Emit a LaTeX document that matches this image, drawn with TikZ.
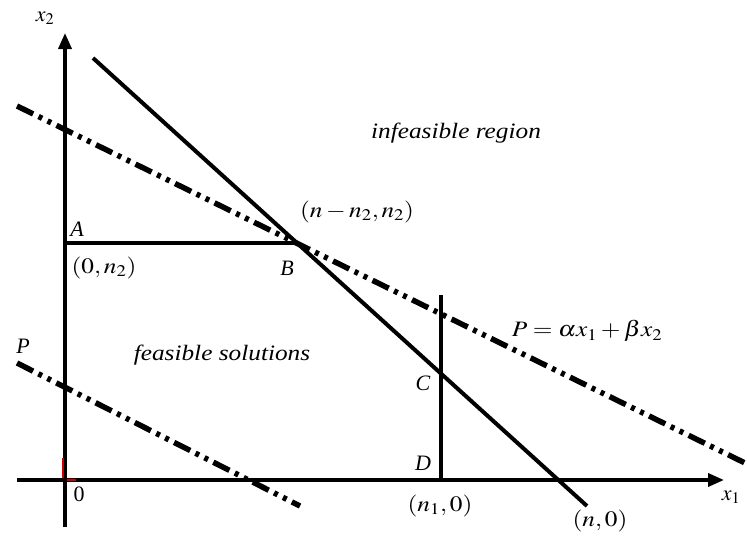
\documentclass[tikz,border=0pt]{standalone}
\usepackage{mathptmx}
\usepackage{fontspec}
\setmainfont{Liberation Serif}
\usetikzlibrary{arrows.meta}
\newcommand{\stretchtxt}[1]{\scalebox{1.15}[1]{#1}}
\begin{document}
\begin{tikzpicture}[x=1pt,y=-1pt,
  solidline/.style={line width=4pt},
  axisline/.style={line width=3.6pt,-{Triangle[length=16pt,width=13pt]}},
  ddline/.style={line width=5.5pt,dash pattern=on 18pt off 6pt on 4pt off 6pt on 4pt off 6pt},
  lbl/.style={font=\fontsize{22}{26}\selectfont\itshape,inner sep=0pt},
  mlbl/.style={font=\fontsize{22}{26}\selectfont,inner sep=0pt}]
\useasboundingbox (0,0) rectangle (747,539);
% coordinates
\coordinate (ybot) at (65,527);
\coordinate (ytop) at (65,33);
\coordinate (xleft) at (17,480);
\coordinate (xright) at (724,480);
\coordinate (O) at (65,480);
\coordinate (A) at (65,243);
\coordinate (B) at (298,243);
\coordinate (L1s) at (93,58);
\coordinate (L1e) at (587,506);
\coordinate (Dt) at (441,295);
\coordinate (D) at (441,480);
\coordinate (P1s) at (17,106);
\coordinate (P1e) at (745,463);
\coordinate (P2s) at (17,363);
\coordinate (P2e) at (300,506);
% axes
\draw[axisline] (ybot) -- (ytop);
\draw[axisline] (xleft) -- (xright);
% red marks at origin
\draw[red!80!black,line width=1.2pt] (63,458) -- (63,478);
\draw[red!80!black,line width=1.2pt] (67,480) -- (76,480);
% lines
\draw[solidline] (A) -- (B);
\draw[solidline] (L1s) -- (L1e);
\draw[solidline] (D) -- (Dt);
\draw[ddline] (P1s) -- (P1e);
\draw[ddline] (P2s) -- (P2e);
% labels
\node[mlbl] (lx2) at (45,18) {$x_2$};
\node[mlbl] (lx1) at (731,497) {$x_1$};
\node[mlbl] (l0) at (79,494) {0};
\node[lbl] (lA) at (77,229) {A};
\node[mlbl] (lA2) at (104,268) {\stretchtxt{$(0,n_2)$}};
\node[lbl] (lB) at (287,268) {B};
\node[mlbl] (lB2) at (357,212) {\stretchtxt{$(n-n_2,n_2)$}};
\node[lbl] (linf) at (456,133) {\stretchtxt{infeasible region}};
\node[lbl] (lfeas) at (222,355) {\stretchtxt{feasible solutions}};
\node[lbl] (lP) at (23,346) {P};
\node[mlbl] (lPeq) at (587,331) {\stretchtxt{$P=\alpha x_1+\beta x_2$}};
\node[lbl] (lC) at (423,383) {C};
\node[lbl] (lD) at (423,463) {D};
\node[mlbl] (lD2) at (440,506) {\stretchtxt{$(n_1,0)$}};
\node[mlbl] (lN) at (600,521) {\stretchtxt{$(n,0)$}};
\end{tikzpicture}
\end{document}
